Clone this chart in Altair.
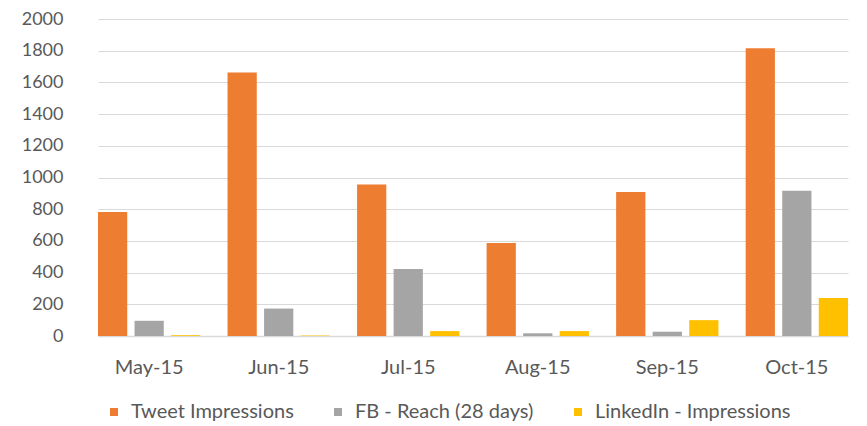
import altair as alt
import pandas as pd

months = ["May-15", "Jun-15", "Jul-15", "Aug-15", "Sep-15", "Oct-15"]
series = ["Tweet Impressions", "FB - Reach (28 days)", "LinkedIn - Impressions"]
tweet = [783, 1662, 956, 586, 908, 1815]
fb = [96, 173, 423, 17, 27, 917]
linkedin = [5, 3, 31, 31, 100, 240]
colors = ["#ED7D31", "#A5A5A5", "#FFC000"]
y_ticks = list(range(0, 2001, 200))

rows = []
for i, m in enumerate(months):
    for s, vals in zip(series, [tweet, fb, linkedin]):
        rows.append({"month": m, "series": s, "value": vals[i]})
df = pd.DataFrame(rows)

FONT = "Lato"
TXT = "#595959"

chart = alt.Chart(df).mark_bar().encode(
    x=alt.X("month:N", sort=months, title=None,
            scale=alt.Scale(range=[16, 766], paddingInner=0.21, paddingOuter=0),
            axis=alt.Axis(labelAngle=0, labelFont=FONT, labelFontSize=20, labelColor=TXT,
                          labelPadding=21, ticks=False, domainColor="#D9D9D9", domainWidth=1.5)),
    xOffset=alt.XOffset("series:N", sort=series, scale=alt.Scale(paddingInner=0.2, paddingOuter=0)),
    y=alt.Y("value:Q", title=None,
            scale=alt.Scale(domain=[0, 2000], nice=False),
            axis=alt.Axis(values=y_ticks, format="d", labelFont=FONT, labelFontSize=18,
                          labelColor=TXT, labelPadding=19, ticks=False, domain=False,
                          gridColor="#D9D9D9", gridWidth=1.2)),
    color=alt.Color("series:N", sort=series,
                    scale=alt.Scale(domain=series, range=colors),
                    legend=alt.Legend(title=None, orient="none", direction="horizontal",
                                      legendX=22, legendY=383, symbolType="square",
                                      symbolSize=64, symbolStrokeWidth=0,
                                      labelFont=FONT, labelFontSize=20, labelColor=TXT,
                                      labelLimit=0, columnPadding=34, labelOffset=7)),
).properties(
    width=771, height=317,
    autosize=alt.AutoSizeParams(type="none"),
    padding={"left": 74, "top": 11, "right": 6, "bottom": 90},
).configure_view(stroke=None)

chart.save("out.html", embed_options={"renderer": "svg", "actions": False})
